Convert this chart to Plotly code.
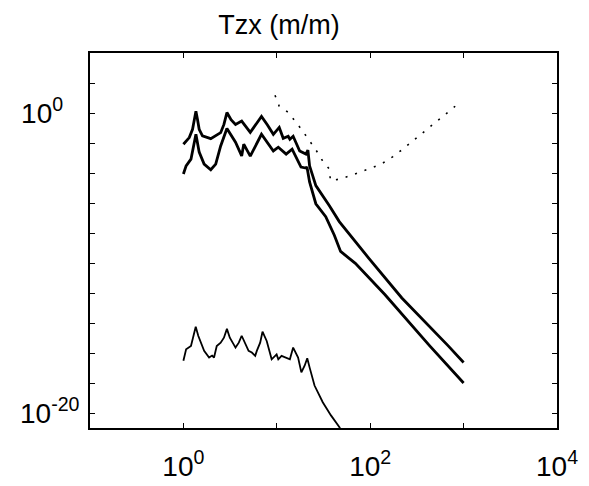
import plotly.graph_objects as go

# ---- data (log10 of frequency, log10 of magnitude) ----
a_logf = [0.0, 0.063, 0.098, 0.116, 0.134, 0.151, 0.169, 0.204, 0.254, 0.293, 0.399, 0.434, 0.466,
          0.51, 0.558, 0.624, 0.716, 0.78, 0.836, 0.9, 0.963, 1.026, 1.069, 1.122, 1.14, 1.175,
          1.245, 1.312, 1.333, 1.351, 1.418, 1.563, 1.669, 1.986, 2.339, 2.833, 3.0]
a_logt = [-2.08, -1.64, -1.09, -0.43, 0.12, -0.43, -1.09, -1.53, -1.62, -1.71, -1.31, -0.76, 0.03,
          -0.45, -0.76, -0.54, -1.29, -0.7, -0.23, -0.8, -1.42, -0.96, -1.69, -1.55, -1.75, -1.55,
          -2.53, -2.74, -2.48, -3.52, -4.84, -6.18, -7.24, -9.69, -12.33, -15.51, -16.63]

b_logf = [0.0, 0.029, 0.081, 0.111, 0.134, 0.169, 0.222, 0.293, 0.346, 0.399, 0.466, 0.558, 0.624,
          0.646, 0.716, 0.836, 0.963, 1.016, 1.1, 1.164, 1.259, 1.312, 1.323, 1.351, 1.418, 1.524,
          1.616, 1.683, 1.841, 2.159, 2.635, 3.0]
b_logt = [-4.07, -3.52, -3.08, -2.08, -1.42, -2.61, -3.41, -3.78, -3.41, -2.2, -1.03, -1.95, -2.86,
          -2.08, -2.88, -1.42, -2.53, -2.28, -2.74, -2.41, -3.6, -3.67, -3.6, -4.6, -6.05, -6.91,
          -8.15, -9.23, -10.02, -12.12, -15.51, -18.0]

c_logf = [0.0, 0.029, 0.081, 0.106, 0.132, 0.159, 0.187, 0.222, 0.275, 0.307, 0.328, 0.357, 0.399,
          0.434, 0.466, 0.497, 0.558, 0.593, 0.624, 0.656, 0.698, 0.733, 0.769, 0.786, 0.822, 0.847,
          0.892, 0.945, 0.998, 1.016, 1.051, 1.14, 1.175, 1.228, 1.263, 1.298, 1.326, 1.351, 1.404,
          1.492, 1.58, 1.669, 1.704]
c_logt = [-16.52, -15.75, -15.53, -14.85, -14.25, -14.85, -15.31, -15.86, -16.3, -16.17, -16.3,
          -15.53, -15.31, -14.98, -14.39, -14.98, -15.64, -15.31, -14.85, -15.24, -15.86, -15.97,
          -16.19, -15.86, -15.31, -14.58, -15.2, -16.42, -16.09, -16.42, -16.19, -16.42, -15.64,
          -16.3, -17.29, -16.85, -16.35, -16.96, -18.17, -19.28, -20.16, -20.93, -21.33]

d_logf = [0.981, 1.026, 1.122, 1.203, 1.273, 1.344, 1.421, 1.485, 1.563, 1.574, 1.675, 1.785, 1.908,
          2.021, 2.134, 2.24, 2.339, 2.437, 2.526, 2.621, 2.727, 2.822, 2.91]
d_logt = [1.18, 0.45, 0.05, -0.56, -1.16, -1.8, -2.48, -3.14, -3.74, -4.51, -4.4, -4.18, -3.92,
          -3.65, -3.34, -2.92, -2.46, -1.97, -1.49, -1.01, -0.5, 0.01, 0.45]

x_tickvals = [0.1, 1, 10, 100, 1000, 10000]
x_ticktext = ["", "10<sup>0</sup>", "", "10<sup>2</sup>", "", "10<sup>4</sup>"]
y_tickexp = [-20, -18, -16, -14, -12, -10, -8, -6, -4, -2, 0, 2, 4]
NB = "\u00a0"
y_labels = {0: "10<sup>0" + NB * 3 + "</sup>", -20: "10<sup>-20</sup>"}

title_text = "Tzx (m/m)"


def pw(v):
    return [10 ** e for e in v]


fig = go.Figure()
fig.add_trace(go.Scatter(x=pw(a_logf), y=pw(a_logt), mode="lines",
                         line=dict(color="black", width=2.8), showlegend=False))
fig.add_trace(go.Scatter(x=pw(b_logf), y=pw(b_logt), mode="lines",
                         line=dict(color="black", width=2.8), showlegend=False))
fig.add_trace(go.Scatter(x=pw(c_logf), y=pw(c_logt), mode="lines",
                         line=dict(color="black", width=1.8), showlegend=False))
fig.add_trace(go.Scatter(x=pw(d_logf), y=pw(d_logt), mode="lines",
                         line=dict(color="black", width=1.6, dash="2px,8px"), showlegend=False))

FAM = "Liberation Sans, Arial, sans-serif"
font = dict(family=FAM, size=28, color="black")

fig.update_layout(
    width=589, height=486,
    margin=dict(l=74, r=40, t=45, b=63),
    paper_bgcolor="white", plot_bgcolor="white",
    title=dict(text=title_text, x=271 / 589, xanchor="center", y=1 - 17 / 486, yanchor="middle",
               font=dict(family=FAM, size=27, color="black")),
    font=font,
)
fig.update_xaxes(type="log", range=[-1, 4], tickvals=x_tickvals, ticktext=x_ticktext,
                 ticks="inside", ticklen=5, tickwidth=1.2, tickcolor="black",
                 showline=True, linecolor="black", linewidth=1.8, mirror="ticks",
                 showgrid=False, zeroline=False, tickfont=font, ticklabelstandoff=12)
fig.update_yaxes(type="log", range=[-21, 4], tickvals=[10 ** e for e in y_tickexp],
                 ticktext=[y_labels.get(e, "") for e in y_tickexp],
                 ticks="inside", ticklen=5, tickwidth=1.2, tickcolor="black",
                 showline=True, linecolor="black", linewidth=1.8, mirror="ticks",
                 showgrid=False, zeroline=False, tickfont=font, ticklabelstandoff=3)

fig.write_html("out.html")
